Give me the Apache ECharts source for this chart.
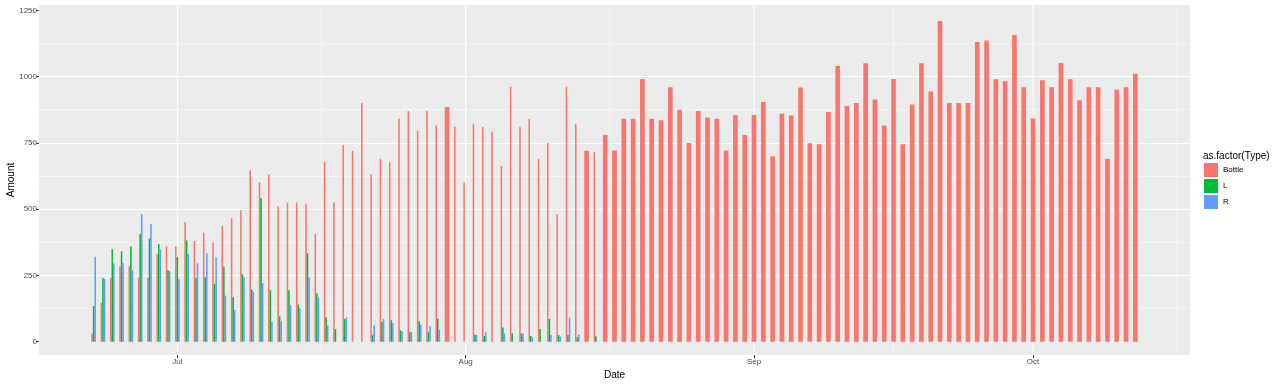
<!DOCTYPE html>
<html><head><meta charset="utf-8">
<script src="https://cdn.jsdelivr.net/npm/echarts@6/dist/echarts.min.js"></script>
<style>html,body{margin:0;padding:0;background:#fff}#c{width:1280px;height:384px}</style>
</head><body><div id="c"></div>
<script>
// ---------- data ----------
const YEAR = 2016;
const dates = [
 '06-22','06-23','06-24','06-25','06-26','06-27','06-28','06-29','06-30',
 '07-01','07-02','07-03','07-04','07-05','07-06','07-07','07-08','07-09','07-10',
 '07-11','07-12','07-13','07-14','07-15','07-16','07-17','07-18','07-19','07-20',
 '07-21','07-22','07-23','07-24','07-25','07-26','07-27','07-28','07-29','07-30','07-31',
 '08-01','08-02','08-03','08-04','08-05','08-06','08-07','08-08','08-09','08-10',
 '08-11','08-12','08-13','08-14','08-15','08-16','08-17','08-18','08-19','08-20',
 '08-21','08-22','08-23','08-24','08-25','08-26','08-27','08-28','08-29','08-30','08-31',
 '09-01','09-02','09-03','09-04','09-05','09-06','09-07','09-08','09-09','09-10',
 '09-11','09-12','09-13','09-14','09-15','09-16','09-17','09-18','09-19','09-20',
 '09-21','09-22','09-23','09-24','09-25','09-26','09-27','09-28','09-29','09-30',
 '10-01','10-02','10-03','10-04','10-05','10-06','10-07','10-08','10-09','10-10',
 '10-11','10-12'
];
const bottle = [
 31,147,240,285,285,240,240,330,360,
 360,451,380,411,375,436,466,496,646,601,
 631,510,525,525,520,406,677,525,742,720,
 900,631,690,676,841,870,796,870,816,885,811,
 601,822,811,791,662,962,811,841,690,750,
 480,962,821,720,715,780,721,841,841,991,
 841,835,960,875,750,870,846,841,721,855,780,
 855,904,700,860,853,959,749,745,866,1040,
 889,900,1050,914,816,991,745,895,1050,944,
 1210,900,900,900,1130,1136,990,982,1157,960,
 842,986,960,1051,990,911,960,960,690,950,
 960,1011
];
// L and R: aligned with the first dates; null = no record on that day
const lValues = [
 135,240,349,341,359,406,389,368,270,
 319,382,241,243,218,284,168,254,197,542,
 194,96,194,140,334,183,92,48,86,0,
 0,25,75,81,43,38,77,36,87,null,0,
 0,26,22,0,54,32,31,22,48,86,
 25,25,17,null,21
];
const rValues = [
 321,237,295,297,270,482,444,348,266,
 236,331,296,334,319,174,120,243,188,221,
 76,77,138,126,241,167,61,0,92,0,
 0,61,86,71,40,36,65,58,46,null,0,
 0,26,36,0,31,0,31,16,0,26,
 20,91,26,null,0
];
const types = ['Bottle','L','R'];
const xTickDates = ['07-01','08-01','09-01','10-01'];
const xTickLabels = ['Jul','Aug','Sep','Oct'];
const xMinorDates = ['07-16T12','08-16T12','09-16T00','10-16T12'];
const yTicks = [0,250,500,750,1000,1250];

// ---------- build ----------
const DAY = 86400000;
const toTime = s => {
  const [md, h] = s.split('T');
  const [m, d] = md.split('-').map(Number);
  return Date.UTC(YEAR, m - 1, d, h ? Number(h) : 0);
};
const colors = ['#F8766D','#00BA38','#619CFF'];
const BAR_WIDTH = 0.5 * DAY;
const valuesByType = [bottle, lValues, rValues];
const has = (arr, i) => arr[i] !== undefined && arr[i] !== null;
const counts = dates.map((d, i) => valuesByType.filter(a => has(a, i)).length);
function buildData(ti) {
  const out = [];
  dates.forEach((d, i) => {
    if (!has(valuesByType[ti], i)) return;
    let slot = 0;
    for (let k = 0; k < ti; k++) if (has(valuesByType[k], i)) slot++;
    out.push([toTime(d), valuesByType[ti][i], slot, counts[i]]);
  });
  return out;
}
const majorTimes = xTickDates.map(toTime);
const gridData = majorTimes.map(t => [t, 1]).concat(xMinorDates.map(s => [toTime(s), 0]));
const FONT = "'Liberation Sans', Arial, Helvetica, sans-serif";

const xMin = toTime('06-16') + 0.125 * DAY;
const xMax = toTime('10-17') + 0.875 * DAY;

const chart = echarts.init(document.getElementById('c'));
const barSeries = types.map((name, ti) => ({
  name, type: 'custom', z: 3,
  itemStyle: { color: colors[ti] },
  encode: { x: 0, y: 1 },
  data: buildData(ti),
  renderItem: (params, api) => {
    const t = api.value(0), v = api.value(1), slot = api.value(2), n = api.value(3);
    const l = api.coord([t - BAR_WIDTH / 2, 0]);
    const r = api.coord([t + BAR_WIDTH / 2, 0]);
    const top = api.coord([t, v]);
    const sw = (r[0] - l[0]) / n;
    return { type: 'rect', shape: { x: l[0] + slot * sw, y: top[1], width: sw, height: l[1] - top[1] },
             style: { fill: colors[ti] } };
  }
}));
chart.setOption({
  animation: false,
  textStyle: { fontFamily: FONT },
  title: { text: 'as.factor(Type)', left: 1203, top: 151, padding: 0,
           textStyle: { fontSize: 10, fontWeight: 'normal', color: '#000', fontFamily: FONT } },
  legend: { data: types, orient: 'vertical', left: 1204, top: 163, padding: 0,
            itemWidth: 14, itemHeight: 14, itemGap: 2, icon: 'rect', selectedMode: false,
            textStyle: { fontSize: 8, color: '#000', fontFamily: FONT } },
  grid: { left: 39, right: 90, top: 5, bottom: 29, show: true, backgroundColor: '#EBEBEB', borderWidth: 0,
          outerBoundsMode: 'none', containLabel: false },
  xAxis: {
    type: 'value', min: xMin, max: xMax, scale: true,
    name: 'Date', nameLocation: 'middle', nameGap: 15, nameMoveOverlap: false,
    nameTextStyle: { color: '#000', fontSize: 10, fontFamily: FONT },
    axisLine: { show: false, onZero: false },
    axisTick: { show: true, length: 3, lineStyle: { color: '#333', width: 1 }, customValues: majorTimes },
    axisLabel: { customValues: majorTimes, color: '#4D4D4D', fontSize: 8, margin: 3, fontFamily: FONT,
      formatter: v => { const i = majorTimes.indexOf(v); return i >= 0 ? xTickLabels[i] : ''; } },
    splitLine: { show: false }
  },
  yAxis: {
    type: 'value', min: -50, max: 1270, minInterval: 250, maxInterval: 250,
    name: 'Amount', nameLocation: 'middle', nameGap: 23, nameMoveOverlap: false,
    nameTextStyle: { color: '#000', fontSize: 10, fontFamily: FONT },
    axisLine: { show: false, onZero: false },
    axisTick: { show: true, length: 3, lineStyle: { color: '#333', width: 1 }, customValues: yTicks },
    axisLabel: { customValues: yTicks, color: '#4D4D4D', fontSize: 8, margin: 2, fontFamily: FONT,
                 formatter: v => String(Math.round(v)) },
    splitLine: { show: true, showMinLine: false, showMaxLine: false, lineStyle: { color: '#FFFFFF', width: 1.07 } },
    minorTick: { show: false, splitNumber: 2 },
    minorSplitLine: { show: true, lineStyle: { color: '#FFFFFF', width: 0.53 } }
  },
  series: [{
    name: '_grid', type: 'custom', z: 1, silent: true, encode: { x: 0 },
    data: gridData,
    renderItem: (params, api) => {
      const x = api.coord([api.value(0), 0])[0];
      const cs = params.coordSys;
      return { type: 'line', shape: { x1: x, y1: cs.y, x2: x, y2: cs.y + cs.height },
               style: { stroke: '#FFFFFF', lineWidth: api.value(1) ? 1.07 : 0.53 } };
    }
  }].concat(barSeries)
});
</script></body></html>
